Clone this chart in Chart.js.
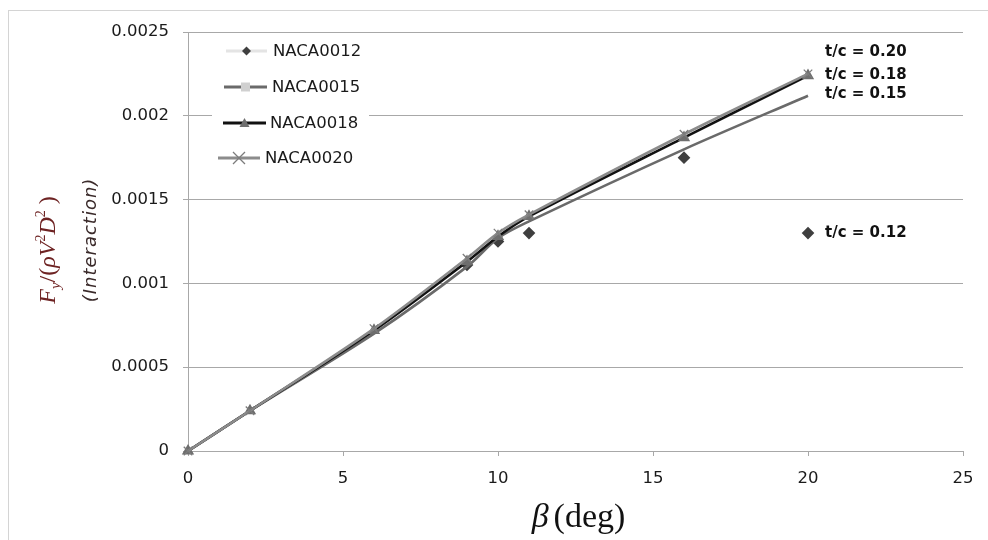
<!DOCTYPE html>
<html>
<head>
<meta charset="utf-8">
<script src="https://cdn.jsdelivr.net/npm/chart.js@4.4.1/dist/chart.umd.min.js"></script>
<style>
  html, body { margin: 0; padding: 0; background: #fff; }
  #wrap { position: absolute; left: 0; top: 0; width: 988px; height: 540px; }
</style>
</head>
<body>
<div id="wrap"><canvas id="c" width="988" height="540"></canvas></div>
<script>
// ---- data ----
const betaDeg  = [0, 2, 6, 9, 10, 11, 16, 20];
const naca0012 = [0, 0.00024, 0.00070, 0.00111, 0.00125, 0.00130, 0.00175, 0.00130];
const naca0015 = [0, 0.00024, 0.00070, 0.00110, 0.00127, 0.00137, 0.00180, 0.00212];
const naca0018 = [0, 0.00024, 0.00072, 0.00113, 0.00128, 0.00140, 0.00187, 0.00224];
const naca0020 = [0, 0.00024, 0.00073, 0.00115, 0.00130, 0.00141, 0.00189, 0.00225];
const seriesNames = ['NACA0012', 'NACA0015', 'NACA0018', 'NACA0020'];
const xTicks = [0, 5, 10, 15, 20, 25];
const yTicks = [0, 0.0005, 0.001, 0.0015, 0.002, 0.0025];
const yTickLabels = ['0', '0.0005', '0.001', '0.0015', '0.002', '0.0025'];
const tcLabelText = ['t/c = 0.20', 't/c = 0.18', 't/c = 0.15', 't/c = 0.12'];
const tcLabelY = [0.00238, 0.002245, 0.00213, 0.00130];
const tcLabelX = 20.55;

function pts(ys) { return betaDeg.map((x, i) => ({ x: x, y: ys[i] })); }

const styles = [
  { line: '#e4e4e4', lw: 3, marker: 'diamond', mColor: '#3f3f3f', mSize: 4.5 },
  { line: '#6a6a6a', lw: 3, marker: 'square', mColor: '#d0d0d0', mSize: 4.5 },
  { line: '#111111', lw: 3, marker: 'triangle', mColor: '#6e6e6e', mSize: 5 },
  { line: '#8c8c8c', lw: 3, marker: 'x', mColor: '#7c7c7c', mSize: 6 }
];

function drawMarker(ctx, type, x, y, r, color) {
  ctx.save();
  ctx.fillStyle = color; ctx.strokeStyle = color;
  ctx.beginPath();
  if (type === 'diamond') {
    ctx.moveTo(x, y - r); ctx.lineTo(x + r, y); ctx.lineTo(x, y + r); ctx.lineTo(x - r, y); ctx.closePath(); ctx.fill();
  } else if (type === 'square') {
    ctx.rect(x - r, y - r, 2 * r, 2 * r); ctx.fill();
  } else if (type === 'triangle') {
    ctx.moveTo(x, y - r); ctx.lineTo(x + r, y + r * 0.8); ctx.lineTo(x - r, y + r * 0.8); ctx.closePath(); ctx.fill();
  } else if (type === 'x') {
    ctx.lineWidth = 1.3;
    ctx.moveTo(x - r, y - r); ctx.lineTo(x + r, y + r);
    ctx.moveTo(x + r, y - r); ctx.lineTo(x - r, y + r); ctx.stroke();
  }
  ctx.restore();
}

const frameAndTitles = {
  id: 'frameAndTitles',
  beforeDraw(chart) {
    const ctx = chart.ctx;
    ctx.save();
    ctx.strokeStyle = '#d4d4d4'; ctx.lineWidth = 1;
    ctx.strokeRect(8.5, 10.5, 1200, 1200);
    ctx.restore();
  },
  afterDraw(chart) {
    const ctx = chart.ctx;
    const xs = chart.scales.x, ys = chart.scales.y;
    const area = chart.chartArea;

    // legend box
    ctx.save();
    ctx.fillStyle = '#ffffff';
    ctx.fillRect(212, 35, 157, 146);
    const legY = [51, 87, 123, 158];
    const legL = [226, 224, 223, 218];
    const legR = [267, 267, 266, 260];
    const legT = [273, 272, 270, 265];
    ctx.font = '16.5px "DejaVu Sans"';
    ctx.textBaseline = 'middle';
    ctx.fillStyle = '#1a1a1a';
    for (let i = 0; i < 4; i++) {
      const s = styles[i];
      ctx.strokeStyle = s.line; ctx.lineWidth = s.lw;
      ctx.beginPath(); ctx.moveTo(legL[i], legY[i]); ctx.lineTo(legR[i], legY[i]); ctx.stroke();
      drawMarker(ctx, s.marker, (legL[i] + legR[i]) / 2, legY[i], s.mSize, s.mColor);
      ctx.fillStyle = '#1a1a1a';
      ctx.fillText(seriesNames[i], legT[i], legY[i] + 1);
    }
    ctx.restore();

    // t/c labels
    ctx.save();
    ctx.font = 'bold 15px "DejaVu Sans"';
    ctx.textBaseline = 'middle';
    ctx.fillStyle = '#111';
    const lx = xs.getPixelForValue(tcLabelX);
    tcLabelText.forEach((t, i) => ctx.fillText(t, lx, ys.getPixelForValue(tcLabelY[i])));
    ctx.restore();

    // x title
    ctx.save();
    const cx = (area.left + area.right) / 2 + 3;
    const fB = 'italic 34px "Liberation Serif"', fD = '34px "Liberation Serif"';
    ctx.font = fB; const wB = ctx.measureText('\u03B2').width;
    ctx.font = fD; const wD = ctx.measureText('(deg)').width;
    const gap = 5;
    let x0 = cx - (wB + gap + wD) / 2;
    ctx.fillStyle = '#111';
    ctx.textBaseline = 'alphabetic';
    ctx.font = fB; ctx.fillText('\u03B2', x0, 527);
    ctx.font = fD; ctx.fillText('(deg)', x0 + wB + gap, 527);
    ctx.restore();

    // y title line 1: Fy/(rho V^2 D^2)
    ctx.save();
    const parts = [
      { t: 'F', f: 'italic 24px "Liberation Serif"', dy: 0 },
      { t: 'y', f: 'italic 15px "Liberation Serif"', dy: 5 },
      { t: '/(', f: '24px "Liberation Serif"', dy: 0 },
      { t: '\u03C1', f: 'italic 24px "Liberation Serif"', dy: 0 },
      { t: 'V', f: 'italic 24px "Liberation Serif"', dy: 0 },
      { t: '2', f: '14px "Liberation Serif"', dy: -10 },
      { t: 'D', f: 'italic 24px "Liberation Serif"', dy: 0 },
      { t: '2', f: '14px "Liberation Serif"', dy: -10 },
      { t: ' )', f: '24px "Liberation Serif"', dy: 0 }
    ];
    let total = 0;
    parts.forEach(p => { ctx.font = p.f; p.w = ctx.measureText(p.t).width; total += p.w; });
    ctx.translate(55, 250);
    ctx.rotate(-Math.PI / 2);
    ctx.fillStyle = '#6e2323';
    ctx.textBaseline = 'alphabetic';
    let px = -total / 2;
    parts.forEach(p => { ctx.font = p.f; ctx.fillText(p.t, px, p.dy); px += p.w; });
    ctx.restore();

    // y title line 2: (Interaction)
    ctx.save();
    ctx.translate(91, 240);
    ctx.rotate(-Math.PI / 2);
    ctx.font = 'oblique 18px "DejaVu Sans"';
    try { ctx.letterSpacing = '1px'; } catch (e) {}
    ctx.fillStyle = '#3a2a2a';
    ctx.textAlign = 'center';
    ctx.textBaseline = 'middle';
    ctx.fillText('(Interaction)', 0, 0);
    ctx.restore();
  }
};

const ds = (i, data, extra) => Object.assign({
  label: seriesNames[i],
  data: pts(data),
  borderColor: styles[i].line,
  borderWidth: 2.6,
  backgroundColor: styles[i].mColor,
  pointBackgroundColor: styles[i].mColor,
  pointBorderColor: styles[i].mColor,
  tension: 0.3,
  clip: false,
  fill: false
}, extra);

new Chart(document.getElementById('c'), {
  type: 'line',
  data: {
    datasets: [
      ds(0, naca0012, { showLine: false, pointStyle: 'rectRot',
        pointRadius: ctx => (ctx.raw && ctx.raw.x < 8 ? 0 : 4.5), order: 4 }),
      ds(1, naca0015, { pointRadius: 0, order: 3 }),
      ds(2, naca0018, { pointStyle: 'triangle', pointRadius: 4.5, order: 2 }),
      ds(3, naca0020, { pointStyle: 'crossRot', pointRadius: 6, pointBorderWidth: 1.3, order: 1 })
    ]
  },
  options: {
    responsive: false,
    animation: false,
    devicePixelRatio: 1,
    layout: { padding: { top: 32, right: 25, left: 0, bottom: 0 } },
    plugins: { legend: { display: false }, tooltip: { enabled: false } },
    scales: {
      x: {
        type: 'linear', min: 0, max: 25,
        afterBuildTicks(s) { s.ticks = xTicks.map(v => ({ value: v })); },
        afterFit(s) { s.height = 89; },
        grid: { drawOnChartArea: false, drawTicks: true, tickLength: 5, color: '#a8a8a8' },
        border: { display: true, color: '#a8a8a8' },
        ticks: { font: { family: 'DejaVu Sans', size: 16.5 }, color: '#1a1a1a', padding: 13, maxRotation: 0 }
      },
      y: {
        type: 'linear', min: 0, max: 0.0025,
        afterBuildTicks(s) { s.ticks = yTicks.map(v => ({ value: v })); },
        afterFit(s) { s.width = 188; },
        grid: { drawOnChartArea: true, drawTicks: true, tickLength: 5, color: '#a8a8a8' },
        border: { display: true, color: '#a8a8a8' },
        ticks: {
          font: { family: 'DejaVu Sans', size: 16.5 }, color: '#1a1a1a', padding: 14,
          callback(v) { const i = yTicks.indexOf(v); return i >= 0 ? yTickLabels[i] : ''; }
        }
      }
    }
  },
  plugins: [frameAndTitles]
});
</script>
</body>
</html>
